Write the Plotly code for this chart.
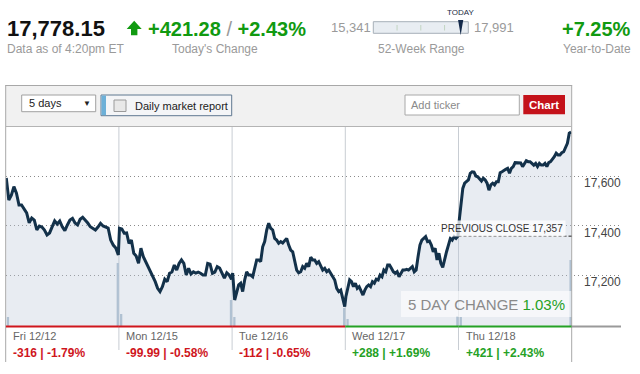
import plotly.graph_objects as go

W, H = 640, 374
FONT = "Liberation Sans, Arial, DejaVu Sans, sans-serif"

# ---------------- data ----------------
day_labels = ["Fri 12/12", "Mon 12/15", "Tue 12/16", "Wed 12/17", "Thu 12/18"]
day_chg_pts = [-316, -99.99, -112, 288, 421]
day_chg_pct = [-1.79, -0.58, -0.65, 1.69, 2.43]

fri = [17592, 17503, 17523, 17557, 17531, 17483, 17483, 17467, 17451, 17411,
       17430, 17422, 17382, 17398, 17394, 17382, 17362, 17370, 17394, 17419,
       17406, 17418, 17395, 17379, 17402, 17422, 17429, 17410, 17402, 17425,
       17433, 17422, 17410, 17395, 17389, 17382, 17394, 17409, 17398, 17395,
       17390, 17341, 17321, 17309, 17281]
mon = [17389, 17386, 17369, 17370, 17328, 17341, 17288, 17277, 17247, 17308,
       17274, 17254, 17234, 17213, 17187, 17173, 17146, 17133, 17153, 17183,
       17173, 17207, 17212, 17240, 17220, 17247, 17261, 17247, 17200, 17227,
       17204, 17213, 17208, 17212, 17207, 17200, 17200, 17247, 17244, 17207,
       17212, 17234, 17228, 17207, 17187, 17209, 17200, 17183]
tue = [17208, 17099, 17126, 17160, 17167, 17133, 17180, 17213, 17200, 17200,
       17193, 17227, 17261, 17261, 17254, 17314, 17335, 17382, 17409, 17389,
       17382, 17348, 17341, 17328, 17335, 17329, 17341, 17348, 17321, 17301,
       17294, 17261, 17220, 17209, 17213, 17234, 17227, 17247, 17234, 17272,
       17261, 17261, 17247, 17254, 17240, 17220, 17227, 17213, 17220, 17207,
       17193, 17180, 17146, 17133, 17139, 17099, 17072]
wed = [17112, 17153, 17180, 17173, 17153, 17167, 17146, 17153, 17133, 17119,
       17139, 17153, 17160, 17153, 17173, 17167, 17183, 17180, 17200, 17193,
       17220, 17213, 17240, 17240, 17227, 17213, 17207, 17213, 17193, 17207,
       17220, 17220, 17223, 17220, 17227, 17234, 17213, 17220, 17274, 17321,
       17341, 17348, 17355, 17335, 17337, 17321, 17294, 17308, 17261, 17288,
       17247, 17231, 17268, 17294, 17321, 17348, 17341, 17355, 17348, 17357]
thu = [17415, 17490, 17550, 17571, 17577, 17584, 17611, 17617, 17616, 17600,
       17597, 17587, 17580, 17591, 17584, 17571, 17543, 17564, 17571, 17564,
       17577, 17577, 17613, 17617, 17624, 17627, 17631, 17611, 17631, 17638,
       17654, 17654, 17651, 17653, 17638, 17651, 17662, 17658, 17658, 17651,
       17644, 17651, 17638, 17651, 17644, 17644, 17651, 17638, 17654, 17658,
       17667, 17678, 17692, 17685, 17685, 17694, 17698, 17712, 17732, 17773,
       17778]

vol_open = [9, 12, 9, 7, 9]
vol_close = [63, 26, 18, 10, 66]

price_ticks = [17200, 17400, 17600]

last_price = 17778.15
today_chg = 421.28
today_pct = 2.43
ytd_pct = 7.25
wk52_low = 15341
wk52_high = 17991
prev_close = 17357
five_day_pct = 1.03

# ---------------- geometry ----------------
PL, PR, GR = 5.7, 571.7, 621.0   # plot left, plot right (end of day 5), grid right end
PT, PB = 127.0, 326.0
px_day = (PR - PL) / 5.0
x_max = (GR - PL) / px_day
price_range = [16994, 17798]

GREEN = "#119a11"
GREEN2 = "#25a125"
RED = "#cf161d"


def X(p):
    return p / W


def Y(p):
    return 1 - p / H


shapes = []
annotations = []


def rect(x0, y0, x1, y1, fill, line=None, lw=1, layer="above"):
    shapes.append(dict(type="rect", xref="paper", yref="paper",
                       x0=X(x0), x1=X(x1), y0=Y(y1), y1=Y(y0),
                       fillcolor=fill, layer=layer,
                       line=dict(color=line if line else "rgba(0,0,0,0)",
                                 width=lw if line else 0)))


def hline(x0, x1, y, color, lw=1, dash="solid", layer="above"):
    shapes.append(dict(type="line", xref="paper", yref="paper",
                       x0=X(x0), x1=X(x1), y0=Y(y), y1=Y(y), layer=layer,
                       line=dict(color=color, width=lw, dash=dash)))


def vline(x, y0, y1, color, lw=1, layer="above"):
    shapes.append(dict(type="line", xref="paper", yref="paper",
                       x0=X(x), x1=X(x), y0=Y(y0), y1=Y(y1), layer=layer,
                       line=dict(color=color, width=lw)))


def text(x, y, s, size, color, anchor="left", **kw):
    d = dict(xref="paper", yref="paper", x=X(x), y=Y(y), text=s,
             showarrow=False, xanchor=anchor, yanchor="middle",
             font=dict(size=size, color=color, family=FONT),
             borderpad=0)
    d.update(kw)
    annotations.append(d)


# ---------------- traces ----------------
days = [fri, mon, tue, wed, thu]
xs, ys = [], []
for d, series in enumerate(days):
    n = len(series)
    for i, v in enumerate(series):
        xs.append(d + 0.005 + 0.99 * i / (n - 1))
        ys.append(v)

vx, vy = [], []
for d in range(5):
    vx += [d + 0.02, d + 0.99]
    vy += [vol_open[d], vol_close[d]]

fig = go.Figure()
fig.add_trace(go.Bar(x=vx, y=vy, width=0.02, yaxis="y",
                     marker=dict(color="rgb(169,190,206)", line=dict(width=0)),
                     hoverinfo="skip"))
fig.add_trace(go.Scatter(x=xs, y=ys, yaxis="y2", mode="lines",
                         line=dict(color="#13314a", width=3),
                         fill="tozeroy", fillcolor="rgba(189,201,218,0.35)",
                         hoverinfo="skip"))

# ---------------- header ----------------
text(6, 28.7, f"<b>{last_price:,.2f}</b>", 22, "#111111")
arrow = [(126.7, 29), (134.2, 20.7), (141.7, 29), (137.4, 29), (137.4, 35.2),
         (131.0, 35.2), (131.0, 29)]
path = "M " + " L ".join(f"{X(a):.5f},{Y(b):.5f}" for a, b in arrow) + " Z"
shapes.append(dict(type="path", xref="paper", yref="paper", path=path,
                   fillcolor=GREEN, line=dict(width=0)))
text(147, 28.7,
     f"<b>+{today_chg:.2f}</b> <span style='color:#9a9a9a'>/</span> <b>+{today_pct:.2f}%</b>",
     20, GREEN)
text(6, 49.5, "Data as of 4:20pm ET", 12, "#9a9a9a")
text(215, 49.5, "Today's Change", 12, "#9a9a9a", anchor="center")

bx0, bx1 = 373.3, 468.3
rect(bx0, 21.7, bx1, 33.3, "#e8edf2", line="#a7afb8", lw=1)
for q in (0.25, 0.5, 0.75):
    xx = bx0 + q * (bx1 - bx0)
    vline(xx, 25, 30.5, "#c2d4c2", lw=1)
mx = bx0 + (last_price - wk52_low) / (wk52_high - wk52_low) * (bx1 - bx0)
mk = [(mx - 2.6, 20.0), (mx + 2.6, 20.0), (mx + 1.2, 28), (mx, 35.2), (mx - 1.2, 28)]
path = "M " + " L ".join(f"{X(a):.5f},{Y(b):.5f}" for a, b in mk) + " Z"
shapes.append(dict(type="path", xref="paper", yref="paper", path=path,
                   fillcolor="#13294a", line=dict(width=0)))
text(mx, 12.2, "TODAY", 8, "#1c2c44", anchor="center")
text(371.5, 27.5, f"{wk52_low:,}", 13, "#9a9a9a", anchor="right")
text(473, 27.5, f"{wk52_high:,}", 13, "#9a9a9a")
text(421, 49.5, "52-Week Range", 12, "#9a9a9a", anchor="center")
text(632, 28.7, f"<b>+{ytd_pct:.2f}%</b>", 20, GREEN, anchor="right")
text(632, 49.5, "Year-to-Date", 12, "#9a9a9a", anchor="right")

# ---------------- toolbar ----------------
rect(6, 86, 571.2, 126, "#f1f1f1")
hline(5.2, 572.2, 85.5, "#a8a8a8")
hline(6, 571.2, 126.5, "#b4b4b4")
vline(PL, 85.5, 362, "#a8a8a8")
vline(PR, 85.5, 362, "#a8a8a8")

rect(21.7, 95, 95.7, 111.7, "#ffffff", line="#a0a0a0")
text(27.7, 103.4, "5 days", 11, "#222222")
text(86.5, 103.2, "▼", 8, "#222222", anchor="center")

rect(101, 95, 231.7, 115.7, "#f4f5f7", line="#5f7890")
rect(101.5, 95.5, 106, 115.2, "#6cb0d8")
rect(114, 100, 126, 111.5, "#e8e8e8", line="#9a9a9a")
text(134, 105.5, "Daily market report", 11, "#222222")

rect(405, 95, 519.3, 115, "#ffffff", line="#a8a8a8")
text(409.5, 105, "Add ticker", 11, "#8a8a8a")
rect(523.3, 95, 565, 114.3, "#c4121a")
text(544.2, 104.7, "<b>Chart</b>", 11.5, "#ffffff", anchor="center")

# ---------------- chart decorations ----------------
for d in range(1, 5):
    shapes.append(dict(type="line", xref="x", yref="paper", x0=d, x1=d,
                       y0=Y(PT), y1=Y(350), layer="below",
                       line=dict(color="#c8cdd3", width=1)))

for d in range(5):
    shapes.append(dict(type="line", xref="x", yref="paper", x0=d, x1=d + 1,
                       y0=Y(326.5), y1=Y(326.5),
                       line=dict(color=RED if day_chg_pts[d] < 0 else GREEN2, width=2)))
shapes.append(dict(type="line", xref="x", yref="paper", x0=5, x1=x_max,
                   y0=Y(326.5), y1=Y(326.5), line=dict(color="#9a9a9a", width=2)))

shapes.append(dict(type="line", xref="x", yref="y2", x0=4, x1=5,
                   y0=prev_close, y1=prev_close,
                   line=dict(color="#222222", width=1, dash="3px,2px")))
annotations.append(dict(xref="x", yref="y2", x=5, y=prev_close, xshift=-6, yshift=8,
                        text=f"PREVIOUS CLOSE {prev_close:,}", showarrow=False,
                        xanchor="right", yanchor="middle", borderpad=2,
                        bgcolor="rgba(255,255,255,0.75)",
                        font=dict(size=10, color="#333333", family=FONT)))

for v in price_ticks:
    annotations.append(dict(xref="paper", yref="y2", x=X(583), y=v, yshift=-7,
                            text=f"{v:,}", showarrow=False, xanchor="left",
                            yanchor="middle", borderpad=0,
                            font=dict(size=12, color="#444444", family=FONT)))

rect(401, 291, 571.2, 317, "rgba(255,255,255,0.6)")
text(566, 304, f"<span style='color:#8a8a8a'>5 DAY CHANGE</span> "
               f"<span style='color:{GREEN2}'>{five_day_pct:.2f}%</span>", 15, "#8a8a8a",
     anchor="right")


def fmt_pts(v):
    s = f"{abs(v):.0f}" if abs(v) >= 100 else f"{abs(v):.2f}"
    return ("+" if v > 0 else "-") + s


for d in range(5):
    annotations.append(dict(xref="x", yref="paper", x=d, y=Y(336), xshift=6,
                            text=day_labels[d], showarrow=False, xanchor="left",
                            yanchor="middle", borderpad=0,
                            font=dict(size=11, color="#666666", family=FONT)))
    p, c = day_chg_pts[d], day_chg_pct[d]
    sg = "+" if c > 0 else "-"
    annotations.append(dict(xref="x", yref="paper", x=d, y=Y(352.5), xshift=6,
                            text=f"<b>{fmt_pts(p)} | {sg}{abs(c):.2f}%</b>",
                            showarrow=False, xanchor="left", yanchor="middle", borderpad=0,
                            font=dict(size=12, color=RED if p < 0 else GREEN2, family=FONT)))

fig.update_layout(
    width=W, height=H, autosize=False,
    margin=dict(l=0, r=0, t=0, b=0, pad=0),
    paper_bgcolor="white", plot_bgcolor="rgba(0,0,0,0)",
    showlegend=False, font=dict(family=FONT),
    xaxis=dict(domain=[X(PL), X(GR)], range=[0, x_max], showgrid=False,
               zeroline=False, showticklabels=False, showline=False, fixedrange=True),
    yaxis=dict(domain=[Y(PB), Y(PT)], range=[0, PB - PT], visible=False,
               showgrid=False, zeroline=False, fixedrange=True),
    yaxis2=dict(overlaying="y", side="right", range=price_range,
                tickvals=price_ticks, showticklabels=False, ticks="",
                showgrid=True, gridcolor="#8a8a8a", griddash="1px,3px", gridwidth=1,
                zeroline=False, showline=False, fixedrange=True),
    shapes=shapes, annotations=annotations,
)

fig.write_html("out.html", config={"displayModeBar": False},
               post_script="document.body.style.margin='0px';"
                           "document.body.style.padding='0px';"
                           "document.body.style.overflow='hidden';")
